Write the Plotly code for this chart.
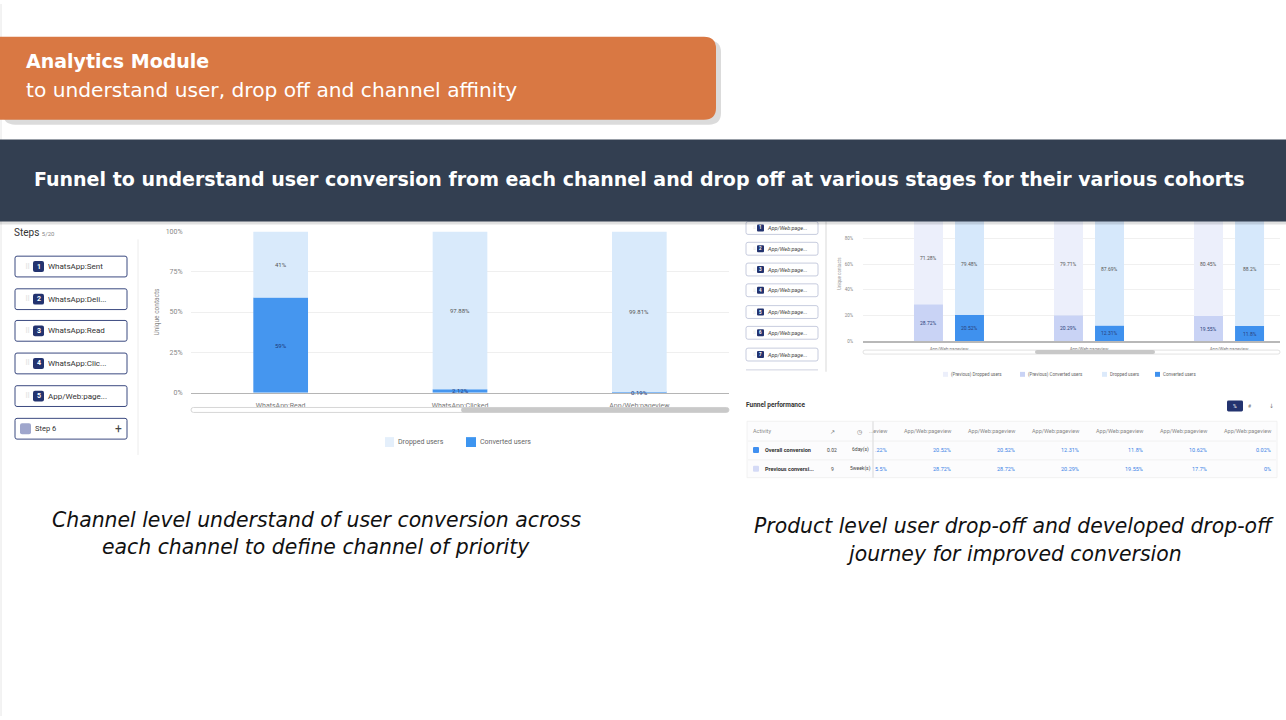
import plotly.graph_objects as go

# ---------------- data ----------------
left_categories = ["WhatsApp:Read", "WhatsApp:Clicked", "App/Web:pageview"]
left_converted = [59, 2.12, 0.19]
left_dropped = [41, 97.88, 99.81]
left_yticks = [0, 25, 50, 75, 100]

right_categories = ["App/Web:pageview", "App/Web:pageview", "App/Web:pageview"]
right_prev_converted = [28.72, 20.29, 19.55]
right_prev_dropped = [71.28, 79.71, 80.45]
right_converted = [20.52, 12.31, 11.8]
right_dropped = [79.48, 87.69, 88.2]
right_yticks = [0, 20, 40, 60, 80]

left_steps = ["WhatsApp:Sent", "WhatsApp:Deli...", "WhatsApp:Read", "WhatsApp:Clic...", "App/Web:page..."]
right_steps = ["App/Web:page..."] * 7

table_columns = ["...eview", "App/Web:pageview", "App/Web:pageview", "App/Web:pageview",
                 "App/Web:pageview", "App/Web:pageview", "App/Web:pageview"]
table_rows = ["Overall conversion", "Previous conversi..."]
table_trend = ["0.02", "9"]
table_time = ["6day(s)", "5week(s)"]
table_values = [[".22%", "20.52%", "20.52%", "12.31%", "11.8%", "10.62%", "0.02%"],
                ["5.5%", "28.72%", "28.72%", "20.29%", "19.55%", "17.7%", "0%"]]

W, H = 1286, 720


def X(px):
    return px / W


def Y(py):
    return 1 - py / H


def rrect(x0, y0, x1, y1, r):
    return (f"M {X(x0+r)},{Y(y0)} L {X(x1-r)},{Y(y0)} Q {X(x1)},{Y(y0)} {X(x1)},{Y(y0+r)} "
            f"L {X(x1)},{Y(y1-r)} Q {X(x1)},{Y(y1)} {X(x1-r)},{Y(y1)} "
            f"L {X(x0+r)},{Y(y1)} Q {X(x0)},{Y(y1)} {X(x0)},{Y(y1-r)} "
            f"L {X(x0)},{Y(y0+r)} Q {X(x0)},{Y(y0)} {X(x0+r)},{Y(y0)} Z")


shapes = []
annotations = []


def rect(x0, y0, x1, y1, fill, line=None, lw=0, r=0, opacity=1):
    d = dict(type="path" if r else "rect", xref="paper", yref="paper",
             fillcolor=fill, line=dict(color=line or "rgba(0,0,0,0)", width=lw),
             opacity=opacity, layer="above")
    if r:
        d["path"] = rrect(x0, y0, x1, y1, r)
    else:
        d.update(x0=X(x0), x1=X(x1), y0=Y(y0), y1=Y(y1))
    shapes.append(d)


def hline(x0, x1, y, color, w=1):
    shapes.append(dict(type="line", xref="paper", yref="paper", x0=X(x0), x1=X(x1),
                       y0=Y(y), y1=Y(y), line=dict(color=color, width=w), layer="above"))


def vline(x, y0, y1, color, w=1):
    shapes.append(dict(type="line", xref="paper", yref="paper", x0=X(x), x1=X(x),
                       y0=Y(y0), y1=Y(y1), line=dict(color=color, width=w), layer="above"))


def txt(x, y, text, size, color="#333", anchor="left", family="Roboto", angle=0):
    annotations.append(dict(x=X(x), y=Y(y), xref="paper", yref="paper", text=text,
                            showarrow=False, xanchor=anchor, yanchor="middle",
                            textangle=angle, font=dict(size=size, color=color, family=family)))


fig = go.Figure()

# ---------------- left chart ----------------
C_DROP = "#d9eafb"
C_CONV = "#4596ef"
fig.add_trace(go.Bar(x=left_categories, y=left_converted, marker=dict(color=C_CONV, line=dict(width=0)),
                     width=0.305, name="Converted users", showlegend=False, xaxis="x", yaxis="y",
                     hoverinfo="skip"))
fig.add_trace(go.Bar(x=left_categories, y=left_dropped, base=left_converted,
                     marker=dict(color=C_DROP, line=dict(width=0)), width=0.305,
                     name="Dropped users", showlegend=False, xaxis="x", yaxis="y", hoverinfo="skip"))
for i, c in enumerate(left_categories):
    cv, dv = left_converted[i], left_dropped[i]
    annotations.append(dict(x=c, y=cv / 2, xref="x", yref="y", text=f"{cv:g}%", showarrow=False,
                            font=dict(size=6, color="#1e3a7a", family="Roboto")))
    annotations.append(dict(x=c, y=cv + dv / 2, xref="x", yref="y", text=f"{dv:g}%", showarrow=False,
                            font=dict(size=6, color="#555", family="Roboto")))

# ---------------- right chart ----------------
BW = 0.207
OFF_P, OFF_C = -0.25, 0.043
xr = list(range(len(right_categories)))
fig.add_trace(go.Bar(x=xr, y=right_prev_converted, width=BW, offset=OFF_P,
                     marker=dict(color="#c9d3f5", line=dict(width=0)), xaxis="x2", yaxis="y2",
                     showlegend=False, hoverinfo="skip"))
fig.add_trace(go.Bar(x=xr, y=right_prev_dropped, base=right_prev_converted, width=BW, offset=OFF_P,
                     marker=dict(color="#eceffb", line=dict(width=0)), xaxis="x2", yaxis="y2",
                     showlegend=False, hoverinfo="skip"))
fig.add_trace(go.Bar(x=xr, y=right_converted, width=BW, offset=OFF_C,
                     marker=dict(color="#3f91ee", line=dict(width=0)), xaxis="x2", yaxis="y2",
                     showlegend=False, hoverinfo="skip"))
fig.add_trace(go.Bar(x=xr, y=right_dropped, base=right_converted, width=BW, offset=OFF_C,
                     marker=dict(color="#d6e8fb", line=dict(width=0)), xaxis="x2", yaxis="y2",
                     showlegend=False, hoverinfo="skip"))
for i in xr:
    for off, conv, drop in ((OFF_P, right_prev_converted[i], right_prev_dropped[i]),
                            (OFF_C, right_converted[i], right_dropped[i])):
        xc = i + off + BW / 2
        annotations.append(dict(x=xc, y=conv / 2, xref="x2", yref="y2", text=f"{conv:g}%",
                                showarrow=False, font=dict(size=5, color="#2a3f7a", family="Roboto")))
        annotations.append(dict(x=xc, y=conv + drop / 2, xref="x2", yref="y2", text=f"{drop:g}%",
                                showarrow=False, font=dict(size=5, color="#555", family="Roboto")))

# ---------------- left panel decorations ----------------
vline(1, 0, 720, "#e6e6e6")
txt(12, 231, "Steps <span style='font-size:6px;color:#888'>5/20</span>", 10, "#333")
vline(138, 238, 456, "#ececec")
box_tops = [255, 288, 320, 353, 386]
for t, lab, n in zip(box_tops, left_steps, range(1, 6)):
    rect(15, t, 127, t + 21, "white", "#3b4a80", 1, r=2)
    txt(23, t + 10.5, "⠿", 7, "#d0d0d0", family="DejaVu Sans")
    rect(33, t + 5, 44, t + 16, "#23336f", r=2)
    txt(38.5, t + 10.5, f"<b>{n}</b>", 7, "white", anchor="center")
    txt(46, t + 10.5, lab, 8, "#333")
rect(15, 419, 127, 440, "white", "#3b4a80", 1, r=2)
rect(20, 424, 31, 435, "#9fa6cc", r=2)
txt(33, 429.5, "Step 6", 7.5, "#333")
txt(118, 429.5, "+", 12, "#444", anchor="center")

# left y title
txt(157, 311, "Unique contacts", 6.5, "#888", anchor="center", angle=-90)
# left scrollbar
rect(191, 408, 729, 413, "white", "#d6d6d6", 1, r=2.5)
rect(461, 408, 729, 413, "#c9c9c9", r=2.5)
# left legend
rect(385, 438, 394, 448, "#e4effb")
txt(396, 443, "Dropped users", 7, "#666")
rect(466, 438, 476, 448, "#3d95f0")
txt(478, 443, "Converted users", 7, "#666")

# ---------------- right panel decorations ----------------
r_tops = [220, 241, 262, 283, 305, 326, 348]
for t, lab, n in zip(r_tops, right_steps, range(1, 8)):
    rect(746, t, 818, t + 13, "white", "#b9bfd6", 0.8, r=2)
    txt(751, t + 6.5, "⠿", 4, "#d8d8d8", family="DejaVu Sans")
    rect(757, t + 3, 764, t + 10, "#23336f", r=1)
    txt(760.5, t + 6.5, f"<b>{n}</b>", 4.5, "white", anchor="center")
    txt(765, t + 6.5, f"<i>{lab}</i>", 5.5, "#444")
hline(746, 818, 370, "#cfd3e0", 1)
vline(826, 220, 372, "#ececec", 2)
txt(840, 273, "Unique contacts", 4.5, "#999", anchor="center", angle=-90)
rect(863, 350, 1280, 354, "white", "#dadada", 0.8, r=2)
rect(1035, 350, 1155, 354, "#c8c8c8", r=2)
# right legend
rect(943, 372, 948, 377, "#eceffb")
txt(949, 374.5, "(Previous) Dropped users", 4.5, "#666")
rect(1020, 372, 1025, 377, "#c9d3f5")
txt(1026, 374.5, "(Previous) Converted users", 4.5, "#666")
rect(1102, 372, 1107, 377, "#dceafb")
txt(1108, 374.5, "Dropped users", 4.5, "#666")
rect(1155, 372, 1160, 377, "#3f91ee")
txt(1161, 374.5, "Converted users", 4.5, "#666")

# ---------------- funnel performance table ----------------
txt(744, 406, "<b>Funnel performance</b>", 6.5, "#333")
rect(1227, 401, 1243, 412, "#23336f", r=1.5)
txt(1235, 406.5, "%", 5, "white", anchor="center")
txt(1250, 406.5, "#", 5, "#777", anchor="center")
txt(1271, 406.5, "↓", 6, "#777", anchor="center", family="DejaVu Sans")
rect(747, 422, 1277, 479, "#fcfcfd", "#efefef", 0.8)
hline(748, 1276, 442, "#f1f1f1")
hline(748, 1276, 461, "#f1f1f1")
vline(873, 422, 479, "#e4e4e4", 1.5)
txt(751, 432, "Activity", 5.5, "#888")
txt(832, 432, "↗", 6, "#666", anchor="center", family="DejaVu Sans")
txt(859, 432, "◷", 6, "#666", anchor="center", family="DejaVu Sans")
col_right = [889, 953, 1017, 1081, 1145, 1209, 1273]
for j, c in enumerate(table_columns):
    txt(col_right[j], 432, c, 5.5, "#888", anchor="right")
row_y = [451, 470]
row_sq = ["#3f8ff0", "#d4daf6"]
for i, lab in enumerate(table_rows):
    y = row_y[i]
    rect(753, y - 3, 759, y + 3, row_sq[i], r=1)
    txt(763, y, f"<b>{lab}</b>", 5.5, "#333")
    txt(832, y, table_trend[i], 5, "#444", anchor="center")
    txt(860, y, table_time[i], 5, "#444", anchor="center")
    for j, v in enumerate(table_values[i]):
        txt(col_right[j], y, v, 5.5, "#3b82e6", anchor="right")

# ---------------- banners ----------------
HF = "DejaVu Sans"
rect(3, 37, 721, 122, "rgba(0,0,0,0.14)", r=12)
rect(-15, 33, 716, 117, "#d97843", r=12)
txt(24, 58, "<b>Analytics Module</b>", 19, "white", family=HF)
txt(24, 86.5, "to understand user, drop off and channel affinity", 20.2, "white", family=HF)
rect(0, 139, 1286, 223, "rgba(0,0,0,0.12)")
rect(0, 137, 1286, 220, "#333f51")
txt(639, 177, "<b>Funnel to understand user conversion from each channel and drop off at various stages for their various cohorts</b>",
    19, "white", anchor="center", family=HF)

# ---------------- captions ----------------
CF = "DejaVu Sans"
txt(316, 522, "<i>Channel level understand of user conversion across</i>", 20.4, "#111", anchor="center", family=CF)
txt(316, 549.5, "<i>each channel to define channel of priority</i>", 20.4, "#111", anchor="center", family=CF)
txt(1014, 528, "<i>Product level user drop-off and developed drop-off</i>", 20.4, "#111", anchor="center", family=CF)
txt(1014, 556, "<i>journey for improved conversion</i>", 20.4, "#111", anchor="center", family=CF)

fig.update_layout(
    width=W, height=H, margin=dict(l=0, r=0, t=0, b=0),
    paper_bgcolor="white", plot_bgcolor="rgba(0,0,0,0)",
    barmode="overlay", showlegend=False,
    xaxis=dict(domain=[X(191), X(729)], anchor="y", type="category", categoryarray=left_categories,
               range=[-0.5, 2.5], showline=True, linecolor="#b5b5b5", linewidth=1,
               ticks="outside", ticklen=6, tickcolor="rgba(0,0,0,0)", showgrid=False,
               tickfont=dict(size=7, color="#777", family="Roboto"), fixedrange=True),
    yaxis=dict(domain=[Y(393), Y(230)], anchor="x", range=[0, 100], tickvals=left_yticks,
               ticktext=[f"{v}%" for v in left_yticks], showgrid=True, gridcolor="#efefef",
               zeroline=False, ticks="outside", ticklen=6, tickcolor="rgba(0,0,0,0)",
               tickfont=dict(size=7, color="#888", family="Roboto"), fixedrange=True),
    xaxis2=dict(domain=[X(863), X(1280)], anchor="y2", range=[-0.614, 2.364], tickvals=xr,
                ticktext=right_categories, showline=True, linecolor="#b8b8b8", linewidth=1.5,
                ticks="outside", ticklen=3, tickcolor="rgba(0,0,0,0)", showgrid=False, zeroline=False,
                tickfont=dict(size=4.5, color="#777", family="Roboto"), fixedrange=True),
    yaxis2=dict(domain=[Y(341), Y(211)], anchor="x2", range=[0, 100], tickvals=right_yticks,
                ticktext=[f"{v}%" for v in right_yticks], showgrid=True, gridcolor="#f0f0f0",
                zeroline=False, ticks="outside", ticklen=8, tickcolor="rgba(0,0,0,0)",
                tickfont=dict(size=4.5, color="#888", family="Roboto"), fixedrange=True),
    shapes=shapes, annotations=annotations,
)

fig.write_html("out.html", config={"displayModeBar": False})
